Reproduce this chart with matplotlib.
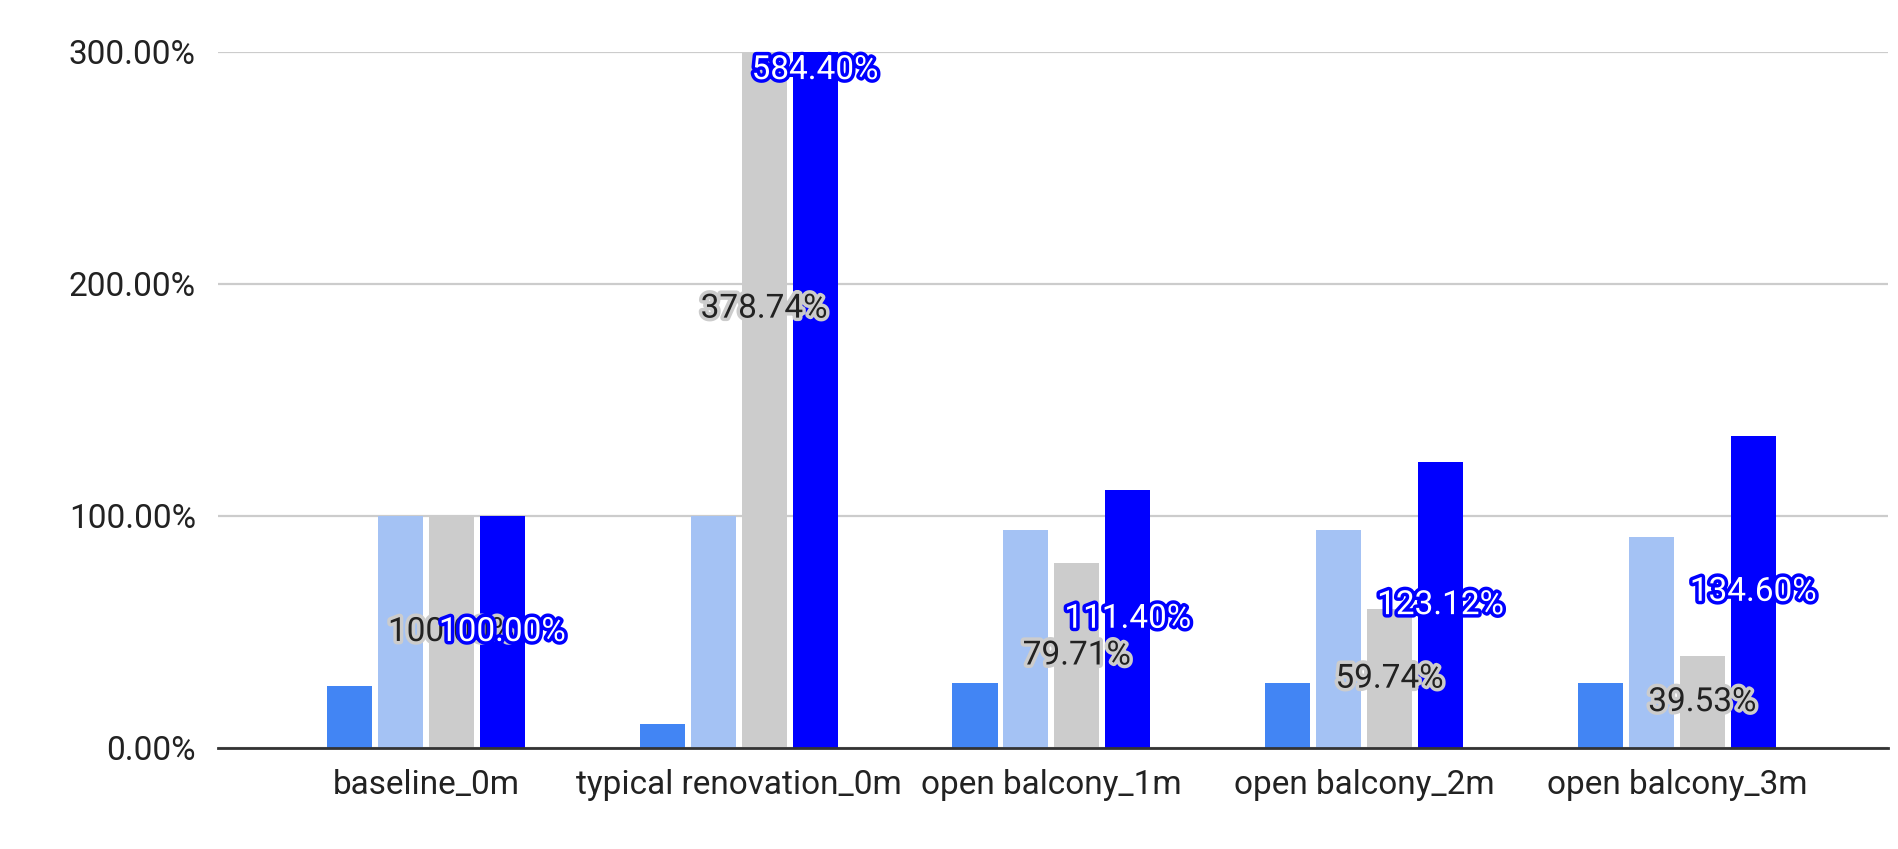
import matplotlib.pyplot as plt
import matplotlib.patheffects as pe
import numpy as np

plt.rcParams["font.family"] = ["Roboto", "DejaVu Sans"]

categories = [
    "baseline_0m",
    "typical renovation_0m",
    "open balcony_1m",
    "open balcony_2m",
    "open balcony_3m",
]

# four series per scenario, in percent
series_a = [26.7, 10.3, 28.0, 28.0, 28.0]
series_b = [100.0, 100.0, 94.0, 94.0, 91.0]
series_c = [100.00, 378.74, 79.71, 59.74, 39.53]
series_d = [100.00, 584.40, 111.40, 123.12, 134.60]

y_ticks = [0, 100, 200, 300]

colors = ["#4285F4", "#A4C2F4", "#CCCCCC", "#0000FF"]


def main():
    fig = plt.figure(figsize=(18.98, 8.49), dpi=100)
    ax = fig.add_axes([0.1149, 0.1190, 0.8798, 0.8198])

    x = np.arange(len(categories))
    width = 0.144
    pitch = 0.163
    offsets = [-1.5 * pitch, -0.5 * pitch, 0.5 * pitch, 1.5 * pitch]
    all_series = [series_a, series_b, series_c, series_d]

    for vals, off, col in zip(all_series, offsets, colors):
        ax.bar(x + off, vals, width=width, color=col, zorder=3)

    # value labels centred inside the grey and blue bars
    label_styles = [
        (series_c, offsets[2], "#222222", "#CCCCCC"),
        (series_d, offsets[3], "white", "#0000FF"),
    ]
    for vals, off, fc, halo in label_styles:
        for xi, v in zip(x, vals):
            ax.text(
                xi + off,
                v / 2,
                f"{v:.2f}%",
                ha="center",
                va="center",
                fontsize=24,
                color=fc,
                zorder=5,
                path_effects=[pe.withStroke(linewidth=5, foreground=halo)],
            )

    ax.set_xlim(-0.665, 4.675)
    ax.set_ylim(0, 300)
    ax.set_yticks(y_ticks)
    ax.set_yticklabels([f"{t:.2f}%" for t in y_ticks])
    ax.set_xticks(x)
    ax.set_xticklabels(categories)
    ax.tick_params(axis="both", length=0, labelsize=24, colors="#222222")
    ax.tick_params(axis="x", pad=15)
    ax.tick_params(axis="y", pad=16)

    ax.grid(axis="y", color="#CCCCCC", linewidth=1.6, zorder=0)
    for s in ["top", "right", "left"]:
        ax.spines[s].set_visible(False)
    ax.spines["bottom"].set_color("#333333")
    ax.spines["bottom"].set_linewidth(2)
    ax.spines["bottom"].set_zorder(4)

    fig.savefig("out.png", dpi=100)
    plt.close(fig)


if __name__ == "__main__":
    main()
